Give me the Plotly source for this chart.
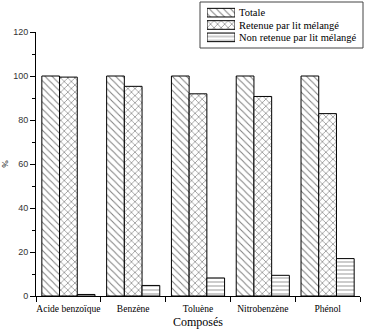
import plotly.graph_objects as go

categories = ["Acide benzoïque", "Benzène", "Toluène", "Nitrobenzène", "Phénol"]
totale = [100, 100, 100, 100, 100]
retenue = [99.5, 95.3, 91.9, 90.7, 82.9]
non_retenue = [0.7, 4.8, 8.2, 9.4, 17.0]
series_names = ["Totale", "Retenue par lit mélangé", "Non retenue par lit mélangé"]
y_ticks = [0, 20, 40, 60, 80, 100, 120]
x_title = "Composés"

SERIF = "Times New Roman"
patterns = ["\\", "x", "-"]
pattern_sizes = [5, 5, 4]
pattern_solidity = [0.2, 0.25, 0.2]

fig = go.Figure()
for name, vals, shape, psz, sol in zip(series_names, [totale, retenue, non_retenue],
                                       patterns, pattern_sizes, pattern_solidity):
    fig.add_trace(go.Bar(
        x=categories, y=vals, name=name, showlegend=False,
        marker=dict(color="white", line=dict(color="black", width=1),
                    pattern=dict(shape=shape, fgcolor="black", bgcolor="white",
                                 size=psz, solidity=sol, fillmode="overlay")),
    ))

# Legend built as a small inset: one patterned swatch per series, names as tick labels
for name, shape, psz, sol in zip(series_names, patterns, pattern_sizes, pattern_solidity):
    fig.add_trace(go.Bar(
        x=[1], y=[name], orientation="h", width=0.7, showlegend=False,
        xaxis="x2", yaxis="y2", hoverinfo="skip",
        marker=dict(color="white", line=dict(color="black", width=1),
                    pattern=dict(shape=shape, fgcolor="black", bgcolor="white",
                                 size=psz, solidity=sol, fillmode="overlay")),
    ))

W, H = 375, 329
L, R, B = 36, 15, 33
pw, ph = W - L - R, H - B

def px_x(p):
    return (p - L) / pw

def px_y(p):
    return (ph - p) / ph

fig.update_layout(
    width=W, height=H,
    margin=dict(l=L, r=R, t=0, b=B),
    paper_bgcolor="white", plot_bgcolor="white",
    barmode="group", bargap=0.18, bargroupgap=0,
    showlegend=False,
    font=dict(family="Liberation Sans", size=9, color="black"),
    xaxis=dict(
        showline=True, linecolor="black", linewidth=1,
        ticks="outside", ticklen=5, tickcolor="black",
        tickson="boundaries", tickangle=0, automargin=False,
        ticklabelstandoff=4,
        tickfont=dict(family=SERIF, size=9.5),
        showgrid=False,
    ),
    yaxis=dict(
        range=[0, 120], tickvals=y_ticks, domain=[0, 264 / 296],
        showline=True, linecolor="black", linewidth=1,
        ticks="outside", ticklen=5, tickcolor="black", automargin=False,
        minor=dict(ticks="outside", ticklen=3, tickcolor="black", dtick=10),
        tickfont=dict(family="Liberation Sans", size=9, color="#333333"),
        title=dict(text="%", font=dict(family=SERIF, size=9), standoff=10),
        showgrid=False, zeroline=False,
    ),
    xaxis2=dict(domain=[px_x(207), px_x(235)], anchor="y2", range=[0, 1],
                visible=False, fixedrange=True),
    yaxis2=dict(domain=[px_y(43.5), px_y(6.5)], anchor="x2", side="right",
                type="category", categoryorder="array", categoryarray=series_names,
                tickmode="array", tickvals=series_names,
                range=[2.5, -0.5], showline=False, ticks="", showgrid=False,
                zeroline=False, ticklabelstandoff=3, automargin=False,
                tickfont=dict(family=SERIF, size=10.5, color="black")),
    shapes=[dict(type="rect", xref="paper", yref="paper",
                 x0=px_x(200), x1=px_x(363), y0=px_y(48), y1=px_y(2),
                 line=dict(color="#444444", width=1), layer="below")],
    annotations=[dict(text=x_title, xref="paper", yref="paper", x=0.5, y=0,
                      xanchor="center", yanchor="top", yshift=-17, showarrow=False,
                      font=dict(family=SERIF, size=12, color="black"))],
)

fig.write_html("out.html")
